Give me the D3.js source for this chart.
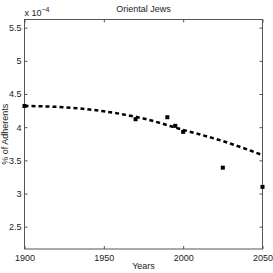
<!DOCTYPE html>
<html>
<head>
<meta charset="utf-8">
<script src="https://cdn.jsdelivr.net/npm/d3@7"></script>
<style>
  body { margin: 0; background: #fff; }
  text { font-family: "Liberation Sans", Arial, sans-serif; fill: #222; }
</style>
</head>
<body>
<div id="chart"></div>
<script>
// observed shares (x 10^-4)
var years = [1900, 1970, 1990, 1995, 2000, 2025, 2050];
var shares = [4.32, 4.12, 4.15, 4.02, 3.93, 3.39, 3.10];

// fitted trend
var fitYears = [1900, 1925, 1950, 1975, 2000, 2025, 2050];
var fitShares = [4.32, 4.30, 4.24, 4.13, 3.96, 3.79, 3.58];

var xTicks = [1900, 1950, 2000, 2050];
var yTicks = [2.5, 3, 3.5, 4, 4.5, 5, 5.5];

var svgWidth = 273, svgHeight = 273;
var margin = { top: 19.5, right: 10.5, bottom: 24, left: 24.5 };
var width = svgWidth - margin.left - margin.right;
var height = svgHeight - margin.top - margin.bottom;

var svg = d3.select("#chart").append("svg")
  .attr("width", svgWidth)
  .attr("height", svgHeight);

var chartGroup = svg.append("g")
  .attr("transform", `translate(${margin.left}, ${margin.top})`);

var x = d3.scaleLinear().domain([1900, 2050]).range([0, width]);
var y = d3.scaleLinear().domain([2.164, 5.623]).range([height, 0]);

var axisColor = "#555";

// box
chartGroup.append("rect")
  .attr("width", width).attr("height", height)
  .attr("fill", "none").attr("stroke", axisColor).attr("stroke-width", 1);

function styleAxis(g) {
  g.select(".domain").remove();
  g.selectAll("line").attr("stroke", axisColor);
  g.selectAll("text").style("font-size", "9px").attr("fill", "#222");
}

chartGroup.append("g")
  .attr("transform", `translate(0,${height})`)
  .call(d3.axisBottom(x).tickValues(xTicks).tickFormat(d3.format("d")).tickSize(-3).tickPadding(6))
  .call(styleAxis);
chartGroup.append("g")
  .call(d3.axisTop(x).tickValues(xTicks).tickSize(-3).tickFormat(""))
  .call(styleAxis);
chartGroup.append("g")
  .call(d3.axisLeft(y).tickValues(yTicks).tickFormat(d3.format("")).tickSize(-3).tickPadding(3))
  .call(styleAxis);
chartGroup.append("g")
  .attr("transform", `translate(${width},0)`)
  .call(d3.axisRight(y).tickValues(yTicks).tickSize(-3).tickFormat(""))
  .call(styleAxis);

// fitted dashed curve
var line = d3.line()
  .x((d, i) => x(fitYears[i]))
  .y(d => y(d))
  .curve(d3.curveMonotoneX);

chartGroup.append("path")
  .datum(fitShares)
  .attr("d", line)
  .attr("fill", "none")
  .attr("stroke", "#000")
  .attr("stroke-width", 2.5)
  .attr("stroke-dasharray", "4,3");

// observed markers
chartGroup.selectAll("rect.pt")
  .data(shares)
  .enter()
  .append("rect")
  .attr("class", "pt")
  .attr("x", (d, i) => x(years[i]) - 2)
  .attr("y", d => y(d) - 2)
  .attr("width", 4)
  .attr("height", 4)
  .attr("fill", "#000");

// texts
svg.append("text")
  .attr("x", margin.left + width / 2)
  .attr("y", 12)
  .attr("text-anchor", "middle")
  .style("font-size", "9px")
  .text("Oriental Jews");

var mult = svg.append("text")
  .attr("x", margin.left)
  .attr("y", 16)
  .style("font-size", "9px");
mult.append("tspan").text("x 10");
mult.append("tspan").attr("dy", -4).style("font-size", "7px").text("\u22124");

svg.append("text")
  .attr("transform", `translate(${margin.left + width / 2}, ${svgHeight - 4})`)
  .attr("text-anchor", "middle")
  .style("font-size", "9px")
  .text("Years");

svg.append("text")
  .attr("transform", `translate(8, ${margin.top + height / 2}) rotate(-90)`)
  .attr("text-anchor", "middle")
  .style("font-size", "9px")
  .text("% of Adherents");
</script>
</body>
</html>
